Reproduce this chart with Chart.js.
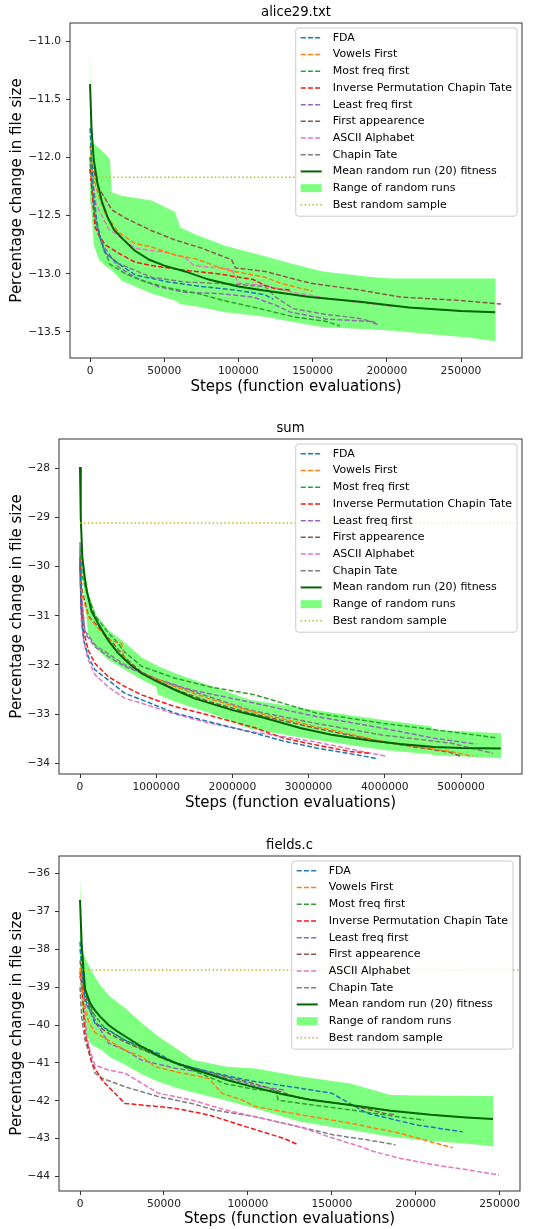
<!DOCTYPE html>
<html>
<head>
<meta charset="utf-8">
<script src="https://cdn.jsdelivr.net/npm/chart.js@4.4.0/dist/chart.umd.min.js"></script>
<style>
  html, body { margin: 0; padding: 0; background: #fff; }
  #wrap { position: relative; width: 539px; height: 1229px; }
  canvas { position: absolute; left: 0; }
</style>
</head>
<body>
<div id="wrap">
  <canvas id="chart-1" width="539" height="405" style="top:0px"></canvas>
  <canvas id="chart-2" width="539" height="410" style="top:405px"></canvas>
  <canvas id="chart-3" width="539" height="414" style="top:815px"></canvas>
</div>
<script>
// ===== labels =====
const seriesNames = ["FDA", "Vowels First", "Most freq first", "Inverse Permutation Chapin Tate",
  "Least freq first", "First appearence", "ASCII Alphabet", "Chapin Tate"];
const meanLabel = "Mean random run (20) fitness";
const rangeLabel = "Range of random runs";
const bestLabel = "Best random sample";
const xAxisLabel = "Steps (function evaluations)";
const yAxisLabel = "Percentage change in file size";

const seriesColors = ["#1f77b4", "#ff7f0e", "#2ca02c", "#f01818", "#9467bd", "#8c564b", "#e377c2", "#7f7f7f"];

// ===== alice29.txt =====
const aliceXTicks = [0, 50000, 100000, 150000, 200000, 250000];
const aliceYTicks = [-11.0, -11.5, -12.0, -12.5, -13.0, -13.5];
const aliceFDA = [[0,-11.75],[2000,-12.25],[5000,-12.6],[10100,-12.82],[18900,-12.91],[30300,-13.01],[52600,-13.07],[75200,-13.11],[97600,-13.14],[118000,-13.18],[123500,-13.22]];
const aliceVowels = [[0,-11.9],[2000,-12.15],[5000,-12.3],[10100,-12.48],[18900,-12.64],[30300,-12.74],[41500,-12.77],[57300,-12.84],[70800,-12.87],[93000,-12.97],[118000,-13.03],[128000,-13.08],[150000,-13.15]];
const aliceMost = [[0,-12.0],[3000,-12.45],[7000,-12.7],[13500,-12.92],[24000,-13.0],[35000,-13.06],[52000,-13.12],[72800,-13.17],[90000,-13.23],[118000,-13.31],[137000,-13.37],[159500,-13.41],[168500,-13.45]];
const aliceInverse = [[0,-12.1],[3400,-12.6],[6700,-12.68],[10100,-12.75],[18900,-12.82],[30300,-12.9],[41500,-12.93],[64000,-12.97],[86200,-13.0],[110000,-13.05],[118000,-13.1],[125000,-13.13],[135000,-13.14]];
const aliceLeast = [[0,-12.05],[3000,-12.5],[7900,-12.74],[18900,-12.94],[30300,-13.03],[45800,-13.11],[64000,-13.16],[86200,-13.17],[110000,-13.2],[125000,-13.27],[135000,-13.33],[159500,-13.39],[188700,-13.41],[194300,-13.44]];
const aliceFirst = [[0,-12.0],[5400,-12.25],[14600,-12.45],[23600,-12.52],[41500,-12.63],[57300,-12.71],[75200,-12.78],[95400,-12.88],[98000,-12.95],[118000,-12.98],[148000,-13.08],[182000,-13.14],[209000,-13.2],[250000,-13.23],[277000,-13.26]];
const aliceAscii = [[0,-12.0],[4000,-12.4],[12300,-12.61],[30300,-12.78],[52600,-12.82],[64000,-12.86],[70000,-12.93],[95400,-12.96],[99800,-13.08],[118000,-13.1],[137000,-13.16],[159700,-13.21],[177200,-13.24],[204000,-13.28]];
const aliceChapin = [[0,-12.1],[4000,-12.6],[10100,-12.82],[18900,-12.91],[41500,-13.03],[64000,-13.07],[97600,-13.09],[118000,-13.11],[125000,-13.2],[137000,-13.3],[159000,-13.35],[180000,-13.38],[193000,-13.42]];
const aliceMean = [[0,-11.37],[1000,-11.75],[2500,-12.02],[5000,-12.22],[8000,-12.38],[12000,-12.52],[16000,-12.62],[22000,-12.7],[30000,-12.8],[40000,-12.88],[50000,-12.93],[64000,-12.98],[80000,-13.05],[100000,-13.11],[115000,-13.14],[148000,-13.2],[182000,-13.24],[215000,-13.29],[250000,-13.32],[273000,-13.33]];
const aliceRangeX = [0, 500, 2500, 6000, 11000, 13500, 14600, 21300, 41500, 57300, 60700, 70700, 91000, 118000, 134800, 157000, 190700, 204000, 256000, 273400];
const aliceRangeHi = [-11.05, -11.85, -11.88, -11.92, -11.98, -12.02, -12.3, -12.33, -12.37, -12.47, -12.6, -12.66, -12.76, -12.85, -12.91, -12.98, -13.03, -13.04, -13.04, -13.04];
const aliceRangeLo = [-12.0, -12.4, -12.75, -12.88, -12.94, -12.96, -12.97, -13.06, -13.17, -13.23, -13.26, -13.28, -13.33, -13.37, -13.41, -13.46, -13.48, -13.49, -13.55, -13.58];
const aliceBest = [[0,-12.17],[280000,-12.17]];

// ===== sum =====
const sumXTicks = [0, 1000000, 2000000, 3000000, 4000000, 5000000];
const sumYTicks = [-28, -29, -30, -31, -32, -33, -34];
const sumFDA = [[0,-29.9],[15000,-30.9],[50000,-31.5],[109000,-31.83],[197000,-32.1],[372000,-32.31],[590000,-32.58],[810000,-32.71],[1247000,-32.98],[1684000,-33.15],[2297000,-33.39],[2670000,-33.55],[3100000,-33.69],[3670000,-33.84],[3900000,-33.91]];
const sumVowels = [[0,-30.3],[30000,-30.6],[109000,-31.02],[372000,-31.49],[547000,-31.56],[590000,-31.9],[810000,-32.17],[1247000,-32.44],[1684000,-32.68],[2260000,-32.95],[3100000,-33.26],[3980000,-33.56],[4860000,-33.76],[5160000,-33.86]];
const sumMost = [[0,-29.6],[30000,-30.2],[109000,-30.6],[200000,-31.0],[372000,-31.35],[500000,-31.55],[560000,-31.7],[810000,-32.03],[1247000,-32.27],[1684000,-32.44],[2297000,-32.61],[3100000,-32.98],[3980000,-33.19],[4860000,-33.36],[5450000,-33.48]];
const sumInverse = [[0,-29.8],[15000,-30.8],[43700,-31.29],[109000,-31.7],[197000,-31.97],[372000,-32.24],[590000,-32.44],[810000,-32.61],[1247000,-32.85],[1684000,-33.02],[2297000,-33.28],[2670000,-33.49],[3100000,-33.63],[3540000,-33.76],[3800000,-33.8]];
const sumLeast = [[0,-29.5],[20000,-30.6],[65000,-31.36],[197000,-31.63],[372000,-31.83],[590000,-32.03],[1030000,-32.3],[1460000,-32.51],[1900000,-32.65],[2297000,-32.78],[3100000,-33.05],[3980000,-33.29],[4640000,-33.49],[5200000,-33.61]];
const sumFirst = [[0,-30.0],[30000,-30.5],[109000,-31.0],[372000,-31.45],[590000,-31.85],[810000,-32.15],[1250000,-32.5],[1700000,-32.75],[2230000,-32.98],[3100000,-33.29],[3980000,-33.57],[4860000,-33.78],[5000000,-33.86]];
const sumAscii = [[0,-30.0],[20000,-31.2],[60000,-31.6],[109000,-31.9],[197000,-32.2],[372000,-32.45],[590000,-32.68],[810000,-32.78],[1247000,-33.0],[1684000,-33.18],[2297000,-33.37],[2670000,-33.46],[3100000,-33.57],[3760000,-33.78],[4030000,-33.86]];
const sumChapin = [[0,-29.7],[20000,-30.7],[65000,-31.3],[200000,-31.6],[590000,-32.0],[1030000,-32.3],[1500000,-32.55],[2230000,-32.92],[3100000,-33.19],[3980000,-33.43],[4860000,-33.59],[5420000,-33.8]];
const sumMean = [[0,-27.97],[10000,-29.0],[30000,-29.8],[60000,-30.2],[90000,-30.5],[150000,-30.9],[260000,-31.22],[370000,-31.5],[500000,-31.76],[650000,-31.98],[810000,-32.17],[1000000,-32.33],[1250000,-32.51],[1500000,-32.68],[2000000,-32.92],[2400000,-33.07],[2900000,-33.29],[3300000,-33.42],[3800000,-33.54],[4200000,-33.61],[4650000,-33.67],[5000000,-33.69],[5520000,-33.7]];
const sumRangeX = [0, 20000, 50000, 109000, 200000, 372000, 590000, 810000, 1000000, 1020000, 1250000, 1700000, 2230000, 3000000, 3980000, 4600000, 4650000, 5530000];
const sumRangeHi = [-28.0, -29.2, -29.9, -30.54, -30.95, -31.29, -31.55, -31.85, -32.0, -32.02, -32.17, -32.42, -32.71, -32.9, -33.12, -33.25, -33.32, -33.39];
const sumRangeLo = [-28.0, -29.8, -30.5, -31.4, -31.65, -31.9, -32.1, -32.3, -32.45, -32.6, -32.75, -32.98, -33.3, -33.5, -33.73, -33.82, -33.84, -33.9];
const sumBest = [[0,-29.11],[5700000,-29.11]];

// ===== fields.c =====
const fieldsXTicks = [0, 50000, 100000, 150000, 200000, 250000];
const fieldsYTicks = [-36, -37, -38, -39, -40, -41, -42, -43, -44];
const fieldsFDA = [[0,-37.8],[1500,-38.8],[3000,-39.3],[8950,-39.96],[16900,-40.13],[26800,-40.4],[46700,-40.75],[56700,-41.01],[76600,-41.23],[101400,-41.47],[131300,-41.67],[150000,-41.8],[157100,-41.98],[171000,-42.33],[200900,-42.64],[228000,-42.82]];
const fieldsVowels = [[0,-38.5],[2000,-39.3],[5000,-39.9],[8950,-40.2],[26800,-40.66],[36800,-40.84],[44700,-41.1],[56700,-41.23],[76600,-41.41],[84500,-41.8],[96500,-41.98],[104400,-42.15],[131300,-42.37],[161100,-42.59],[190900,-42.86],[222000,-43.24]];
const fieldsMost = [[0,-38.0],[3000,-39.1],[8000,-39.7],[15000,-40.1],[26800,-40.4],[46700,-40.84],[66600,-41.19],[86500,-41.55],[104400,-41.7],[117000,-41.75],[118000,-41.98],[123300,-42.02],[161100,-42.24],[190900,-42.43],[205000,-42.51]];
const fieldsInverse = [[0,-38.6],[1000,-38.9],[2980,-40.22],[7000,-41.0],[12900,-41.44],[16900,-41.63],[26800,-42.07],[36800,-42.11],[56700,-42.2],[76600,-42.37],[101400,-42.72],[121300,-42.99],[129000,-43.14]];
const fieldsLeast = [[0,-38.7],[3000,-39.4],[8950,-39.87],[16900,-40.48],[26800,-40.66],[36800,-40.93],[56700,-41.14],[76600,-41.27],[104400,-41.6],[122000,-41.72]];
const fieldsFirst = [[0,-38.3],[3000,-39.2],[10000,-40.0],[17000,-40.22],[27000,-40.45],[37000,-40.65],[57000,-41.0],[77000,-41.25],[104000,-41.55],[131300,-41.93],[161100,-42.11],[181000,-42.33],[187000,-42.36]];
const fieldsAscii = [[0,-38.7],[2000,-39.3],[4000,-40.3],[6000,-40.7],[8950,-41.06],[16900,-41.19],[26800,-41.27],[36800,-41.54],[46700,-41.8],[66600,-41.98],[86500,-42.24],[104400,-42.42],[131300,-42.7],[151100,-42.99],[167100,-43.21],[175000,-43.34],[191000,-43.52],[211000,-43.69],[230700,-43.82],[249600,-43.96]];
const fieldsChapin = [[0,-39.0],[1000,-39.8],[2980,-40.4],[8950,-41.27],[12900,-41.4],[26800,-41.63],[46700,-41.89],[66600,-42.07],[80500,-42.25],[104400,-42.42],[121300,-42.59],[151100,-42.9],[171000,-43.03],[188000,-43.16]];
const fieldsMean = [[0,-36.7],[1000,-37.9],[3000,-39.05],[6000,-39.42],[9000,-39.62],[12000,-39.78],[17000,-40.0],[22000,-40.16],[28000,-40.33],[37000,-40.58],[48000,-40.84],[57000,-41.0],[70000,-41.2],[87500,-41.45],[100000,-41.6],[120000,-41.82],[137000,-41.97],[161000,-42.11],[185000,-42.26],[209000,-42.37],[230000,-42.44],[246000,-42.48]];
const fieldsRangeX = [0, 1000, 2000, 6000, 10000, 12900, 17900, 26800, 36800, 46700, 56700, 67600, 76600, 87500, 104400, 131300, 161100, 185000, 200900, 240700, 246300];
const fieldsRangeHi = [-36.09, -37.8, -38.11, -38.5, -38.81, -39.0, -39.25, -39.55, -39.95, -40.3, -40.6, -40.92, -41.0, -41.1, -41.15, -41.36, -41.54, -41.85, -41.86, -41.87, -41.87];
const fieldsRangeLo = [-38.8, -39.5, -40.0, -40.48, -40.6, -40.66, -40.85, -41.05, -41.3, -41.5, -41.65, -41.78, -41.88, -42.0, -42.2, -42.55, -42.77, -42.95, -43.03, -43.17, -43.21];
const fieldsBest = [[0,-38.55],[262000,-38.55]];

Chart.defaults.font.family = '"DejaVu Sans", sans-serif';
Chart.defaults.color = "#000";

// frame, title and a matplotlib-like legend inside the plot
const panelDecor = {
  id: "panelDecor",
  afterDraw(chart, args, opts) {
    const ctx = chart.ctx;
    const a = chart.chartArea;
    ctx.save();
    ctx.strokeStyle = "#333";
    ctx.lineWidth = 1;
    ctx.strokeRect(a.left, a.top, a.right - a.left, a.bottom - a.top);

    ctx.font = '13.2px "DejaVu Sans"';
    ctx.fillStyle = "#000";
    ctx.textAlign = "center";
    ctx.textBaseline = "middle";
    ctx.fillText(opts.title, (a.left + a.right) / 2, a.top - 10.7);

    // legend
    const items = chart.data.datasets.filter((d) => !d.noLegend);
    ctx.font = '11px "DejaVu Sans"';
    const textW = Math.max(...items.map((d) => ctx.measureText(d.label).width));
    const pad = 5, handle = 21, gap = 11, rowH = 16.7;
    const w = pad + handle + gap + textW + pad;
    const h = items.length * rowH + 4.5;
    const x0 = a.right - opts.margin - w;
    const y0 = a.top + 5;
    ctx.beginPath();
    ctx.roundRect(x0, y0, w, h, 3);
    ctx.fillStyle = "rgba(255,255,255,0.8)";
    ctx.fill();
    ctx.strokeStyle = "#cccccc";
    ctx.stroke();
    ctx.textAlign = "left";
    items.forEach((d, i) => {
      const cy = y0 + 1.5 + rowH * (i + 0.5);
      const hx = x0 + pad;
      if (d.fill) {
        ctx.fillStyle = d.backgroundColor;
        ctx.fillRect(hx, cy - 4, handle, 8);
      } else {
        ctx.beginPath();
        ctx.setLineDash(d.borderDash || []);
        ctx.strokeStyle = d.borderColor;
        ctx.lineWidth = d.borderWidth;
        ctx.moveTo(hx, cy);
        ctx.lineTo(hx + handle, cy);
        ctx.stroke();
        ctx.setLineDash([]);
      }
      ctx.fillStyle = "#000";
      ctx.fillText(d.label, hx + handle + gap, cy);
    });
    ctx.restore();
  },
};

function makePanel(canvasId, p) {
  const datasets = p.series.map((pts, i) => ({
    label: seriesNames[i],
    data: pts,
    borderColor: seriesColors[i],
    borderWidth: 1.5,
    borderDash: [5, 2.2],
    order: 1,
  }));
  datasets.push({ label: meanLabel, data: p.mean, borderColor: "darkgreen", borderWidth: 2, order: 0 });
  datasets.push({
    label: rangeLabel,
    data: p.rangeX.map((x, i) => [x, p.rangeHi[i]]),
    borderColor: "transparent",
    borderWidth: 0,
    backgroundColor: "rgba(0,255,0,0.5)",
    fill: "+1",
    order: 5,
  });
  datasets.push({
    label: "",
    noLegend: true,
    data: p.rangeX.map((x, i) => [x, p.rangeLo[i]]),
    borderColor: "transparent",
    borderWidth: 0,
    fill: false,
    order: 5,
  });
  datasets.push({ label: bestLabel, data: p.best, borderColor: "#bcbd22", borderWidth: 1.5, borderDash: [1.5, 2.4], order: -1 });

  return new Chart(document.getElementById(canvasId), {
    type: "line",
    data: { datasets: datasets },
    options: {
      responsive: false,
      animation: false,
      devicePixelRatio: 1,
      layout: { padding: { left: 0, right: p.padRight, top: p.padTop, bottom: 0 } },
      elements: { point: { radius: 0 }, line: { tension: 0 } },
      plugins: {
        legend: { display: false },
        tooltip: { enabled: false },
        panelDecor: { title: p.title, margin: p.legendMargin },
      },
      scales: {
        x: {
          type: "linear",
          min: p.xMin,
          max: p.xMax,
          afterBuildTicks: (s) => { s.ticks = p.xTicks.map((v) => ({ value: v })); },
          afterFit: (s) => { s.height = p.xAxisH; },
          ticks: { font: { size: 10.7 }, color: "#222", maxRotation: 0, autoSkip: false, padding: 3,
            callback: (v) => String(v) },
          grid: { drawOnChartArea: false, drawTicks: true, tickLength: 4, color: "#333" },
          border: { display: false },
          title: { display: true, text: xAxisLabel, font: { size: 15 }, color: "#000",
            padding: { top: 0, bottom: p.xTitlePad } },
        },
        y: {
          type: "linear",
          min: p.yMin,
          max: p.yMax,
          afterBuildTicks: (s) => { s.ticks = p.yTicks.map((v) => ({ value: v })); },
          afterFit: (s) => { s.width = p.yAxisW; },
          ticks: { font: { size: 10.7 }, color: "#222", autoSkip: false, padding: 5,
            callback: (v) => (p.yDigits ? v.toFixed(p.yDigits) : String(v)).replace("-", "\u2212") },
          grid: { drawOnChartArea: false, drawTicks: true, tickLength: 4, color: "#333" },
          border: { display: false },
          title: { display: true, text: yAxisLabel, font: { size: 15 }, color: "#000",
            padding: { top: 8.5, bottom: 0 } },
        },
      },
    },
    plugins: [panelDecor],
  });
}

makePanel("chart-1", {
  title: "alice29.txt",
  series: [aliceFDA, aliceVowels, aliceMost, aliceInverse, aliceLeast, aliceFirst, aliceAscii, aliceChapin],
  mean: aliceMean, rangeX: aliceRangeX, rangeHi: aliceRangeHi, rangeLo: aliceRangeLo, best: aliceBest,
  xTicks: aliceXTicks, yTicks: aliceYTicks, yDigits: 1,
  xMin: -13500, xMax: 291100, yMin: -13.724, yMax: -10.845,
  padTop: 23, padRight: 17, yAxisW: 70, xAxisH: 47, xTitlePad: 9.3, legendMargin: 5,
});

makePanel("chart-2", {
  title: "sum",
  series: [sumFDA, sumVowels, sumMost, sumInverse, sumLeast, sumFirst, sumAscii, sumChapin],
  mean: sumMean, rangeX: sumRangeX, rangeHi: sumRangeHi, rangeLo: sumRangeLo, best: sumBest,
  xTicks: sumXTicks, yTicks: sumYTicks, yDigits: 0,
  xMin: -275600, xMax: 5800000, yMin: -34.22, yMax: -27.40,
  padTop: 34, padRight: 17, yAxisW: 59, xAxisH: 41, xTitlePad: 2.7, legendMargin: 5,
});

makePanel("chart-3", {
  title: "fields.c",
  series: [fieldsFDA, fieldsVowels, fieldsMost, fieldsInverse, fieldsLeast, fieldsFirst, fieldsAscii, fieldsChapin],
  mean: fieldsMean, rangeX: fieldsRangeX, rangeHi: fieldsRangeHi, rangeLo: fieldsRangeLo, best: fieldsBest,
  xTicks: fieldsXTicks, yTicks: fieldsYTicks, yDigits: 0,
  xMin: -12530, xMax: 262100, yMin: -44.38, yMax: -35.54,
  padTop: 41, padRight: 19, yAxisW: 59, xAxisH: 38, xTitlePad: 1, legendMargin: 7,
});
</script>
</body>
</html>
